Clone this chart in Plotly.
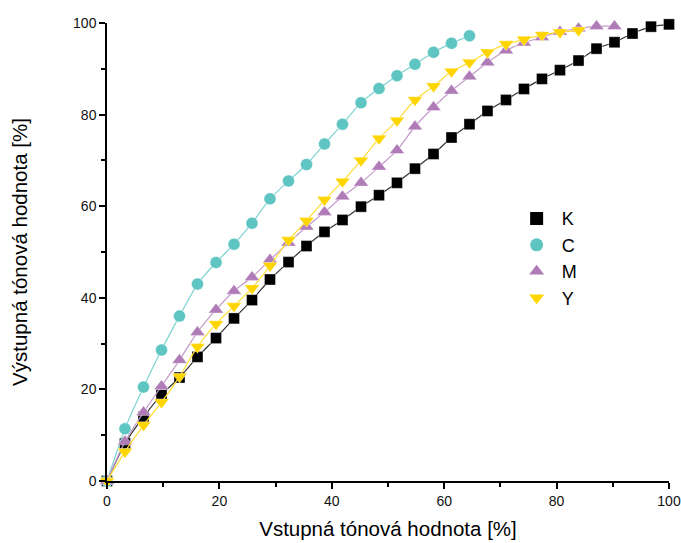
import plotly.graph_objects as go

x_input = [0, 3.2, 6.5, 9.7, 12.9, 16.1, 19.4, 22.6, 25.8, 29.0, 32.3, 35.5, 38.7, 41.9, 45.2,
           48.4, 51.6, 54.8, 58.1, 61.3, 64.5, 67.7, 71.0, 74.2, 77.4, 80.6, 83.9, 87.1, 90.3,
           93.5, 96.8, 100]

k_vals = [0, 8.2, 14.0, 18.8, 22.6, 27.1, 31.2, 35.5, 39.5, 44.0, 47.8, 51.3, 54.4, 57.0, 59.9,
          62.4, 65.1, 68.2, 71.4, 75.0, 77.9, 80.8, 83.2, 85.6, 87.8, 89.7, 91.8, 94.4, 95.8,
          97.7, 99.2, 99.7]
c_vals = [0, 11.4, 20.5, 28.6, 36.0, 43.0, 47.7, 51.7, 56.3, 61.6, 65.5, 69.1, 73.6, 77.9, 82.6,
          85.7, 88.5, 91.0, 93.6, 95.6, 97.2]
m_vals = [0, 8.6, 15.0, 20.7, 26.4, 32.5, 37.4, 41.5, 44.5, 48.3, 52.0, 55.5, 58.7, 62.1, 65.1,
          68.6, 72.2, 77.4, 81.6, 85.2, 88.3, 91.4, 94.0, 95.7, 96.9, 98.1, 98.8, 99.3, 99.3]
y_vals = [0, 6.4, 12.2, 17.2, 22.8, 29.3, 34.3, 38.2, 42.1, 47.0, 52.6, 56.8, 61.4, 65.4, 70.0,
          74.8, 78.7, 83.2, 86.2, 89.4, 91.4, 93.6, 95.4, 96.4, 97.4, 98.0, 98.4]

series = [
    ("K", k_vals, "square", 11, "#000000", "#333333"),
    ("C", c_vals, "circle", 12, "#5EC5C2", "#7FD3D1"),
    ("M", m_vals, "triangle-up", 13, "#B07CB8", "#C39ACA"),
    ("Y", y_vals, "triangle-down", 13, "#FFD500", "#FFDD33"),
]

fig = go.Figure()
for name, vals, sym, size, mcol, lcol in series:
    fig.add_trace(go.Scatter(
        x=x_input[:len(vals)], y=vals, mode="lines+markers", name=name,
        line=dict(color=lcol, width=1.2, shape="spline", smoothing=0.6),
        marker=dict(symbol=sym, size=size, color=mcol,
                    line=dict(color="rgba(255,255,255,0.6)", width=0.6)),
        showlegend=False, cliponaxis=False))

for name, vals, sym, size, mcol, lcol in series:
    fig.add_trace(go.Scatter(
        x=[None], y=[None], mode="markers", name=name,
        marker=dict(symbol=sym, size=13, color=mcol), showlegend=True))

axis_common = dict(
    range=[0, 100], showline=True, linecolor="black", linewidth=1.5,
    ticks="outside", ticklen=6, tickwidth=1.5, tickcolor="black",
    dtick=20, tick0=0, showgrid=False, zeroline=False, automargin=False,
    tickfont=dict(family="Liberation Sans, Arial", size=14, color="#111"),
    minor=dict(ticks="outside", ticklen=4, tickwidth=1.5, tickcolor="black", dtick=10),
)

fig.update_layout(
    width=681, height=543,
    margin=dict(l=107, r=12, t=23, b=62),
    paper_bgcolor="white", plot_bgcolor="white",
    font=dict(family="Liberation Sans, Arial", color="black"),
    xaxis=dict(axis_common, title=dict(text="Vstupná tónová hodnota [%]",
                                       font=dict(size=20.5), standoff=14)),
    yaxis=dict(axis_common, title=dict(text="Výstupná tónová hodnota [%]",
                                       font=dict(size=20.5), standoff=40)),
    legend=dict(x=0.72, y=0.613, xanchor="left", yanchor="top",
                font=dict(size=18, family="Liberation Sans, Arial"),
                bgcolor="rgba(0,0,0,0)", itemwidth=40),
)

fig.write_html("out.html")
